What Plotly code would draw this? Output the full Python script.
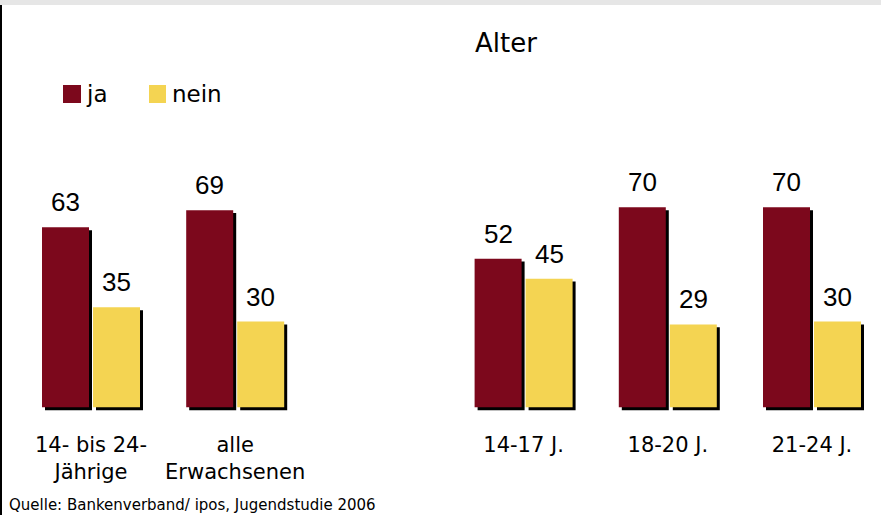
import plotly.graph_objects as go

# Daten
categories = ["14- bis 24-<br>Jährige", "alle<br>Erwachsenen", "14-17 J.", "18-20 J.", "21-24 J."]
ja = [63, 69, 52, 70, 70]
nein = [35, 30, 45, 29, 30]
title_text = "Alter"
source_text = "Quelle: Bankenverband/ ipos, Jugendstudie 2006"

# Layout-Hilfen
slots = [0, 1, 3, 4, 5]  # Lücke zwischen Gesamt und Altersgruppen
W, H = 881, 515
BOTTOM = 102
PLOT_H = H - BOTTOM
PX_X = 144.2   # Pixel pro x-Einheit
PX_Y = 2.857   # Pixel pro Prozentpunkt
bw = 47 / PX_X
off_ja = -49 / PX_X
off_nein = 2 / PX_X
sh_dx = 3 / PX_X

col_ja = "#7c081c"
col_nein = "#f4d452"
txt_font = "DejaVu Sans, Open Sans"

fig = go.Figure()

# Schatten
for vals, off in [(ja, off_ja), (nein, off_nein)]:
    fig.add_trace(go.Bar(x=slots, y=vals, base=-1, width=bw, offset=off + sh_dx,
                         marker=dict(color="black", line=dict(width=0)),
                         showlegend=False, hoverinfo="skip"))

fig.add_trace(go.Bar(x=slots, y=ja, name="ja", width=bw, offset=off_ja,
                     marker=dict(color=col_ja, line=dict(width=0))))
fig.add_trace(go.Bar(x=slots, y=nein, name="nein", width=bw, offset=off_nein,
                     marker=dict(color=col_nein, line=dict(width=0))))

# Werte über den Balken
for vals, off in [(ja, off_ja), (nein, off_nein)]:
    for s, v in zip(slots, vals):
        fig.add_annotation(x=s + off + bw / 2, y=v, xref="x", yref="y", text=str(v),
                           showarrow=False, yanchor="bottom", yshift=8,
                           font=dict(family="Liberation Sans, Arial", size=26, color="black"))

def px(xp):
    return xp / W

def py(yp):
    return 1 - yp / PLOT_H

shapes = [
    dict(type="rect", xref="paper", yref="paper", x0=0, x1=1, y0=py(5), y1=py(0),
         fillcolor="#e6e6e6", line=dict(width=0), layer="below"),
    dict(type="line", xref="paper", yref="paper", x0=px(1), x1=px(1), y0=py(5), y1=py(H),
         line=dict(color="black", width=2)),
    dict(type="rect", xref="paper", yref="paper", x0=px(63), x1=px(81), y0=py(103), y1=py(85),
         fillcolor=col_ja, line=dict(width=0)),
    dict(type="rect", xref="paper", yref="paper", x0=px(149), x1=px(166), y0=py(103), y1=py(85),
         fillcolor=col_nein, line=dict(width=0)),
]

label_font = dict(family=txt_font, size=23, color="black")
fig.add_annotation(x=px(84), y=py(94), xref="paper", yref="paper", text="ja",
                   showarrow=False, xanchor="left", yanchor="middle", font=label_font)
fig.add_annotation(x=px(170), y=py(94), xref="paper", yref="paper", text="nein",
                   showarrow=False, xanchor="left", yanchor="middle", font=label_font)
fig.add_annotation(x=px(506), y=py(43), xref="paper", yref="paper", text=title_text,
                   showarrow=False, xanchor="center", yanchor="middle",
                   font=dict(family=txt_font, size=26, color="black"))
fig.add_annotation(x=px(7), y=py(505), xref="paper", yref="paper", text=source_text,
                   showarrow=False, xanchor="left", yanchor="middle",
                   font=dict(family=txt_font, size=15, color="black"))

fig.update_layout(
    width=W, height=H,
    margin=dict(l=0, r=0, t=0, b=BOTTOM),
    paper_bgcolor="white", plot_bgcolor="white",
    barmode="overlay", showlegend=False,
    shapes=shapes,
    xaxis=dict(range=[-91 / PX_X, (W - 91) / PX_X], tickvals=slots, ticktext=categories,
               showgrid=False, zeroline=False, showline=False, ticks="",
               ticklabelstandoff=17,
               tickfont=dict(family=txt_font, size=21, color="black")),
    yaxis=dict(range=[-2, PLOT_H / PX_Y - 2], visible=False),
)

# Standardrand der Seite entfernen, damit die Grafik das Fenster genau füllt
fig.write_html("out.html", config={"displayModeBar": False},
               post_script="document.body.style.margin='0';")
